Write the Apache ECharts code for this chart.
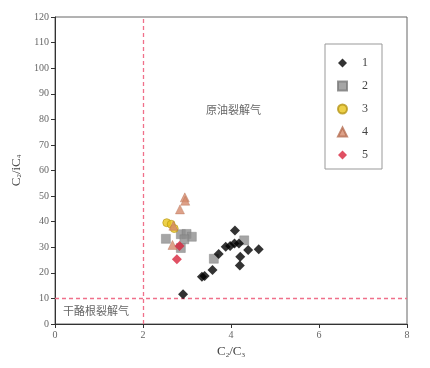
<!DOCTYPE html>
<html>
<head>
<meta charset="utf-8">
<script src="https://cdn.jsdelivr.net/npm/echarts@6/dist/echarts.min.js"></script>
<style>
  html, body { margin: 0; padding: 0; background: #fff; }
  #chart { width: 430px; height: 368px; }
</style>
</head>
<body>
<div id="chart"></div>
<script>
// 数据 (C2/C3, C2/iC4)
var s1x = [2.91, 3.34, 3.40, 3.58, 3.72, 3.88, 3.98, 4.08, 4.09, 4.18, 4.21, 4.20, 4.39, 4.63];
var s1y = [11.6, 18.5, 18.8, 21.1, 27.4, 30.2, 30.5, 31.5, 36.5, 31.5, 26.3, 22.9, 28.9, 29.2];
var s2x = [2.52, 2.86, 2.99, 3.11, 2.94, 2.86, 3.61, 4.30];
var s2y = [33.3, 35.1, 35.2, 34.1, 33.1, 29.7, 25.5, 32.7];
var s3x = [2.54, 2.64, 2.71];
var s3y = [39.6, 39.0, 37.3];
var s4x = [2.95, 2.96, 2.84, 2.69, 2.67];
var s4y = [49.5, 48.2, 44.8, 38.4, 30.9];
var s5x = [2.83, 2.77];
var s5y = [30.5, 25.3];

var seriesNames = ['1', '2', '3', '4', '5'];
var xTicks = [0, 2, 4, 6, 8];
var limitX = 2;   // 竖直分界线
var limitY = 10;  // 水平分界线

function pairs(xs, ys) {
  return xs.map(function (v, i) { return [v, ys[i]]; });
}

var serif = '"Liberation Serif", "DejaVu Serif", serif';
var cjk = '"Noto Sans CJK SC", sans-serif';

var myChart = echarts.init(document.getElementById('chart'));
var option = {
  animation: false,
  grid: { left: 55, right: 23, top: 17, bottom: 44, show: true, borderColor: '#666', borderWidth: 1 },
  xAxis: {
    type: 'value', min: 0, max: 8, interval: 2,
    name: 'C{s|2}/C{s|3}', nameLocation: 'middle', nameGap: 21,
    nameTextStyle: { fontFamily: serif, fontSize: 13, color: '#444',
      rich: { s: { fontFamily: serif, fontSize: 7, color: '#444', padding: [7, 0, 0, 0] } } },
    axisLine: { lineStyle: { color: '#333' } },
    axisTick: { show: true, inside: false, length: 4, lineStyle: { color: '#333' } },
    axisLabel: { fontFamily: serif, fontSize: 10, color: '#666', margin: 6,
      formatter: function (v) { return xTicks.indexOf(v) >= 0 ? v : ''; } },
    splitLine: { show: false }
  },
  yAxis: {
    type: 'value', min: 0, max: 120, interval: 10,
    name: 'C{s|2}/iC{s|4}', nameLocation: 'middle', nameGap: 27, nameRotate: 90,
    nameTextStyle: { fontFamily: serif, fontSize: 13, color: '#444',
      rich: { s: { fontFamily: serif, fontSize: 7, color: '#444', padding: [7, 0, 0, 0] } } },
    axisLine: { show: true, lineStyle: { color: '#333' } },
    axisTick: { show: true, inside: false, length: 4, lineStyle: { color: '#333' } },
    axisLabel: { fontFamily: serif, fontSize: 10, color: '#666', margin: 6 },
    splitLine: { show: false }
  },
  legend: {
    orient: 'vertical', left: 325, top: 44,
    data: seriesNames,
    itemWidth: 9, itemHeight: 9, itemGap: 11,
    padding: [13, 14, 8, 12],
    borderColor: '#999', borderWidth: 1,
    textStyle: { fontFamily: serif, fontSize: 12, color: '#444', padding: [0, 0, 0, 10] }
  },
  graphic: [
    { type: 'text', left: 206, top: 104,
      style: { text: '原油裂解气', fontFamily: cjk, fontSize: 11, fill: '#666' } },
    { type: 'text', left: 63, top: 305,
      style: { text: '干酪根裂解气', fontFamily: cjk, fontSize: 11, fill: '#666' } }
  ],
  series: [
    { name: '1', type: 'scatter', symbol: 'diamond', symbolSize: 10,
      itemStyle: { color: '#000' }, data: pairs(s1x, s1y), z: 5,
      markLine: {
        silent: true, symbol: 'none', label: { show: false },
        lineStyle: { type: [4, 3], color: '#f0708a', width: 1.3 },
        data: [{ xAxis: limitX }, { yAxis: limitY }]
      } },
    { name: '2', type: 'scatter', symbol: 'rect', symbolSize: 9,
      itemStyle: { color: '#8e8e8e', borderColor: '#7a7a7a', borderWidth: 0.5 }, data: pairs(s2x, s2y) },
    { name: '3', type: 'scatter', symbol: 'circle', symbolSize: 8,
      itemStyle: { color: '#e8c41c', borderColor: '#b59516', borderWidth: 0.8 }, data: pairs(s3x, s3y) },
    { name: '4', type: 'scatter', symbol: 'triangle', symbolSize: 9,
      itemStyle: { color: '#d4896b', borderColor: '#b56e52', borderWidth: 0.5 }, data: pairs(s4x, s4y) },
    { name: '5', type: 'scatter', symbol: 'diamond', symbolSize: 10,
      itemStyle: { color: '#d8243c' }, data: pairs(s5x, s5y) }
  ]
};
myChart.setOption(option);
window.addEventListener('resize', function () { myChart.resize(); });
</script>
</body>
</html>
